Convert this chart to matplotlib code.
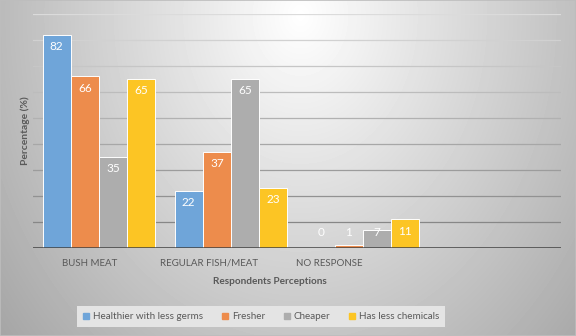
import matplotlib
matplotlib.use('Agg')
import matplotlib.pyplot as plt
from matplotlib.lines import Line2D
from matplotlib.transforms import offset_copy, blended_transform_factory
import numpy as np

plt.rcParams['font.family'] = ['Lato', 'DejaVu Sans']

# data
categories = ['BUSH MEAT', 'REGULAR FISH/MEAT', 'NO RESPONSE']
series_names = ['Healthier with less germs', 'Fresher', 'Cheaper', 'Has less chemicals']
healthier = [82, 22, 0]
fresher = [66, 37, 1]
cheaper = [35, 65, 7]
less_chem = [65, 23, 11]
series_vals = [healthier, fresher, cheaper, less_chem]
colors = ['#6fa5d9', '#ed8c4c', '#adadad', '#fcc524']
grid_vals = list(range(10, 100, 10))

W, H = 576, 336
fig = plt.figure(figsize=(W / 100, H / 100), dpi=100)

# radial gray background
bg = fig.add_axes([0, 0, 1, 1], zorder=-10)
yy, xx = np.mgrid[0:H, 0:W]
d = np.sqrt(((xx - 300) / 300.0) ** 2 + ((yy - 15) / 380.0) ** 2)
shade = np.clip(1.0 - 0.27 * d, 0, 1)
bg.imshow(shade, cmap='gray', vmin=0, vmax=1, aspect='auto',
          extent=[0, 1, 0, 1], origin='upper')
bg.add_patch(plt.Rectangle((0, 0), 1, 1, transform=bg.transAxes, fill=False,
                           edgecolor='#bdbdbd', lw=1.2))
bg.set_axis_off()

ax = fig.add_axes([33 / W, 88.3 / H, 528 / W, 233.7 / H])
ax.patch.set_alpha(0)
for s in ax.spines.values():
    s.set_visible(False)

# gradient gridlines: darker toward the bottom
for i, g in enumerate(grid_vals):
    t = i / (len(grid_vals) - 1)
    c = 0.53 + t * (0.86 - 0.53)
    ax.axhline(g, color=(c, c, c), lw=0.9, zorder=0)

x = np.arange(len(categories))
bw = 0.214
offs = (np.arange(4) - 1.5) * bw
for k in range(4):
    ax.bar(x + offs[k], series_vals[k], bw, color=colors[k],
           edgecolor='white', linewidth=0.7, zorder=2, label=series_names[k])
    for xi, v in zip(x + offs[k], series_vals[k]):
        ax.text(xi, max(v - 4.6, 5.7), str(v), ha='center', va='center',
                color='white', fontsize=8.5, zorder=3)

ax.axhline(0, color='#404040', lw=1.8, zorder=4)
ax.set_xlim(-0.5, 3.5)
ax.set_ylim(0, 90)
ax.set_xticks([])
ax.set_yticks([])

# category labels (Excel draws them slightly left of the groups)
label_shift = [-9, -22, -34]
tr = blended_transform_factory(ax.transData, fig.transFigure)
for i, cat in enumerate(categories):
    t = offset_copy(tr, fig=fig, x=label_shift[i], y=0, units='dots')
    ax.text(i, 1 - 263 / H, cat, transform=t, ha='center', va='center',
            fontsize=7.0, color='#595959')

fig.text(269.5 / W, 1 - 281.5 / H, 'Respondents Perceptions', ha='center', va='center',
         fontsize=7.2, fontweight='bold', color='#595959')
fig.text(25 / W, 1 - 131 / H, 'Percentage (%)', ha='center', va='center',
         rotation=90, fontsize=7.4, fontweight='bold', color='#595959')

handles = [Line2D([], [], ls='none', marker='s', markersize=4.8, color=c) for c in colors]
leg = fig.legend(handles, series_names, loc='center', bbox_to_anchor=(261 / W, 1 - 316.5 / H),
                 ncol=4, frameon=True, fancybox=False, fontsize=7.1, handlelength=0.7,
                 handletextpad=0.3, columnspacing=1.9, borderpad=0.65, labelcolor='#595959')
leg.get_frame().set_facecolor('#e4e4e4')
leg.get_frame().set_edgecolor('none')
leg.get_frame().set_alpha(1)

fig.savefig('out.png', dpi=100)
